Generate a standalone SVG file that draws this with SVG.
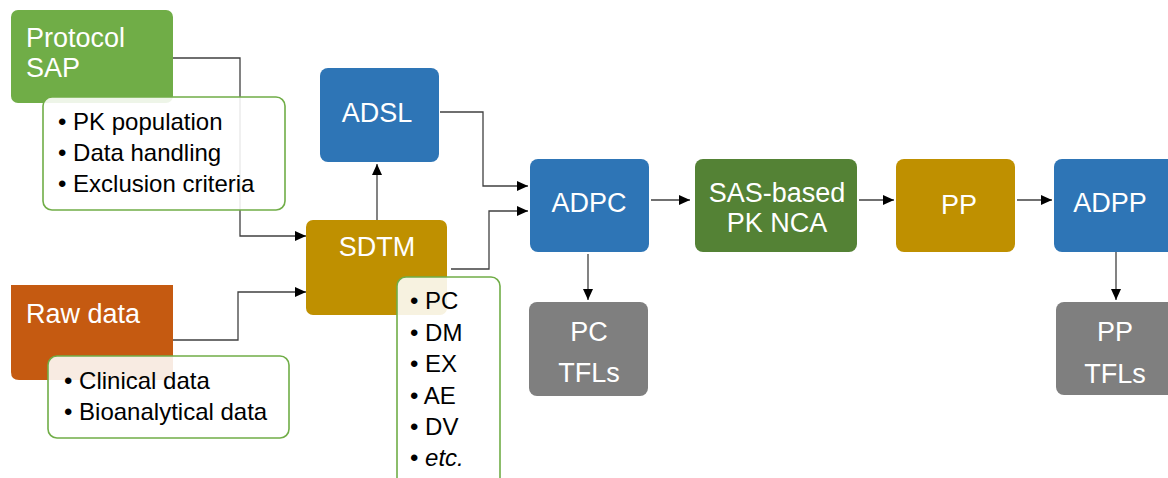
<svg xmlns="http://www.w3.org/2000/svg" width="1168" height="478" viewBox="0 0 1168 478">
  <style>
    text { font-family: "Liberation Sans", Arial, sans-serif; }
    .label { fill: #ffffff; font-size: 27px; text-anchor: middle; }
    .label-left { fill: #ffffff; font-size: 27px; }
    .bullet { fill: #000000; font-size: 24px; }
    .box { stroke: none; }
    .note { fill: #ffffff; fill-opacity: 0.88; stroke: #70AD47; stroke-width: 1.6; }
    .wire { fill: none; stroke: #404040; stroke-width: 1.3; }
    .arrow { marker-end: url(#head); }
  </style>
  <defs>
    <marker id="head" viewBox="0 0 11 10" refX="11" refY="5" markerWidth="11" markerHeight="10" markerUnits="userSpaceOnUse" orient="auto">
      <path d="M0,0 L11,5 L0,10 Z" fill="#000000"/>
    </marker>
  </defs>

  <rect width="1168" height="478" fill="#ffffff"/>

  <!-- connectors -->
  <g id="connectors">
    <path class="wire arrow" d="M173,58 H240 V236 H306"/>
    <path class="wire arrow" d="M173,340 H238 V292 H306"/>
    <path class="wire arrow" d="M377,220 V164"/>
    <path class="wire arrow" d="M440,112 H483 V186 H528"/>
    <path class="wire arrow" d="M451,269 H489 V211 H528"/>
    <path class="wire arrow" d="M651,200 H690"/>
    <path class="wire arrow" d="M588,254 V300"/>
    <path class="wire arrow" d="M859,200 H894"/>
    <path class="wire arrow" d="M1017,200 H1052"/>
    <path class="wire arrow" d="M1116,246 V300"/>
  </g>

  <!-- source nodes -->
  <g id="node-protocol">
    <rect class="box" x="11" y="10" width="162" height="93" rx="7" fill="#70AD47"/>
    <text class="label-left" x="26" y="47">Protocol</text>
    <text class="label-left" x="26" y="77">SAP</text>
  </g>

  <g id="node-rawdata">
    <path class="box" d="M11,285 H173 V372 Q173,380 165,380 H19 Q11,380 11,372 Z" fill="#C55A11"/>
    <text class="label-left" x="26" y="323">Raw data</text>
  </g>

  <g id="node-sdtm">
    <rect class="box" x="306" y="220" width="141" height="95" rx="7" fill="#BF9000"/>
    <text class="label" x="377" y="256">SDTM</text>
  </g>

  <g id="node-adsl">
    <rect class="box" x="320" y="68" width="119" height="94" rx="8" fill="#2E75B6"/>
    <text class="label" x="377" y="122">ADSL</text>
  </g>

  <g id="node-adpc">
    <rect class="box" x="530" y="159" width="119" height="93" rx="8" fill="#2E75B6"/>
    <text class="label" x="589" y="212">ADPC</text>
  </g>

  <g id="node-nca">
    <rect class="box" x="695" y="159" width="162" height="93" rx="8" fill="#548235"/>
    <text class="label" x="777" y="202">SAS-based</text>
    <text class="label" x="777" y="232">PK NCA</text>
  </g>

  <g id="node-pp">
    <rect class="box" x="896" y="159" width="119" height="93" rx="8" fill="#BF9000"/>
    <text class="label" x="959" y="214">PP</text>
  </g>

  <g id="node-adpp">
    <rect class="box" x="1054" y="159" width="126" height="93" rx="8" fill="#2E75B6"/>
    <text class="label" x="1110" y="212">ADPP</text>
  </g>

  <g id="node-pc-tfls">
    <rect class="box" x="529" y="302" width="119" height="94" rx="8" fill="#7F7F7F"/>
    <text class="label" x="589" y="341">PC</text>
    <text class="label" x="589" y="382">TFLs</text>
  </g>

  <g id="node-pp-tfls">
    <rect class="box" x="1056" y="302" width="124" height="93" rx="8" fill="#7F7F7F"/>
    <text class="label" x="1115" y="341">PP</text>
    <text class="label" x="1115" y="383">TFLs</text>
  </g>

  <!-- detail callouts -->
  <g id="note-protocol">
    <rect class="note" x="43" y="97" width="242" height="113" rx="9"/>
    <text class="bullet" x="58" y="130">• PK population</text>
    <text class="bullet" x="58" y="161">• Data handling</text>
    <text class="bullet" x="58" y="192">• Exclusion criteria</text>
  </g>

  <g id="note-rawdata">
    <rect class="note" x="48" y="356" width="241" height="82" rx="9"/>
    <text class="bullet" x="64" y="389">• Clinical data</text>
    <text class="bullet" x="64" y="420">• Bioanalytical data</text>
  </g>

  <g id="note-sdtm">
    <rect class="note" x="397" y="277" width="103" height="215" rx="9"/>
    <text class="bullet" x="410" y="309">• PC</text>
    <text class="bullet" x="410" y="341">• DM</text>
    <text class="bullet" x="410" y="372">• EX</text>
    <text class="bullet" x="410" y="404">• AE</text>
    <text class="bullet" x="410" y="435">• DV</text>
    <text class="bullet" x="410" y="466">• <tspan font-style="italic">etc.</tspan></text>
  </g>
</svg>
